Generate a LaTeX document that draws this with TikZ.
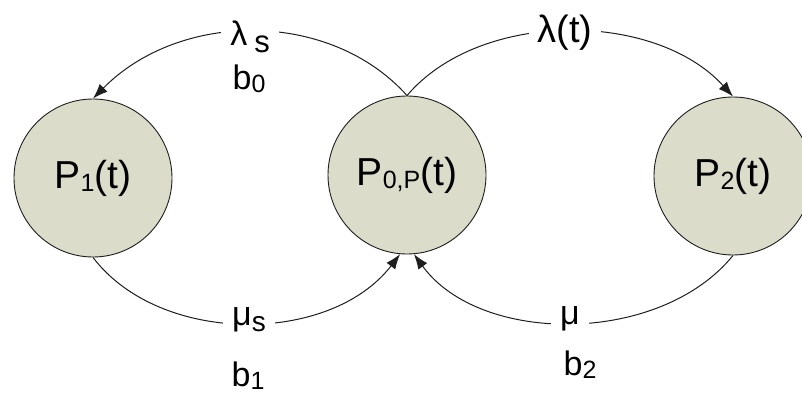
\documentclass[tikz,border=0pt]{standalone}
\usepackage{fontspec}
\setmainfont{Liberation Sans}
\usetikzlibrary{arrows.meta}
\definecolor{statefill}{RGB}{219,221,202}
\definecolor{linegray}{RGB}{30,30,30}
\newcommand\lowsub[2][24]{\raisebox{-3pt}{\fontsize{#1}{#1}\selectfont #2}}
\begin{document}
\begin{tikzpicture}[x=1pt,y=-1pt,
  state/.style={circle, draw=linegray, line width=0.9pt, fill=statefill,
    minimum size=158pt, inner sep=0pt, font=\fontsize{39}{42}\selectfont},
  flow/.style={draw=linegray, line width=1pt, -{Latex[length=15pt,width=11pt]}},
  rate/.style={fill=white, inner xsep=9pt, inner ysep=1pt,
    font=\fontsize{34}{36}\selectfont, anchor=base},
  extra/.style={inner sep=0pt, font=\fontsize{34}{36}\selectfont, anchor=base}]
\useasboundingbox (0,0) rectangle (802,394);
\fill[white] (0,0) rectangle (802,394);
% states
\node[state] (p1) at (93,178) {P\lowsub[25]{1}(t)};
\node[state] (p0) at (407,175) {P\lowsub[25]{0,P}(t)};
\node[state] (p2) at (733,176) {P\lowsub[25]{2}(t)};
% connectors
\draw[flow] (p0.north) .. controls +(-77,-86) and +(87,-88) .. (p1.north);
\draw[flow] (p0.north) .. controls +(73,-86) and +(-78,-86) .. (p2.north);
\draw[flow] (p1.south) .. controls +(67,88) and +(-70,91) .. (p0.265);
\draw[flow] (p2.south) .. controls +(-73,90) and +(66,91) .. (p0.275);
% rate labels
\node[rate] (ls) at (250,45) {λ\hspace{7pt}\raisebox{-7pt}{\fontsize{31}{31}\selectfont s}};
\node[extra] (b0) at (249,89) {b\lowsub[25]{0}};
\node[rate, font=\fontsize{38}{40}\selectfont] (lt) at (565,42) {λ(t)};
\node[rate] (ms) at (249,325) {μ\raisebox{-6pt}{\fontsize{28}{28}\selectfont s}};
\node[extra] (b1) at (248,386) {b\lowsub[25]{1}};
\node[rate] (mu) at (570,324) {μ};
\node[extra] (b2) at (580,375) {b\lowsub[25]{2}};
\end{tikzpicture}
\end{document}
